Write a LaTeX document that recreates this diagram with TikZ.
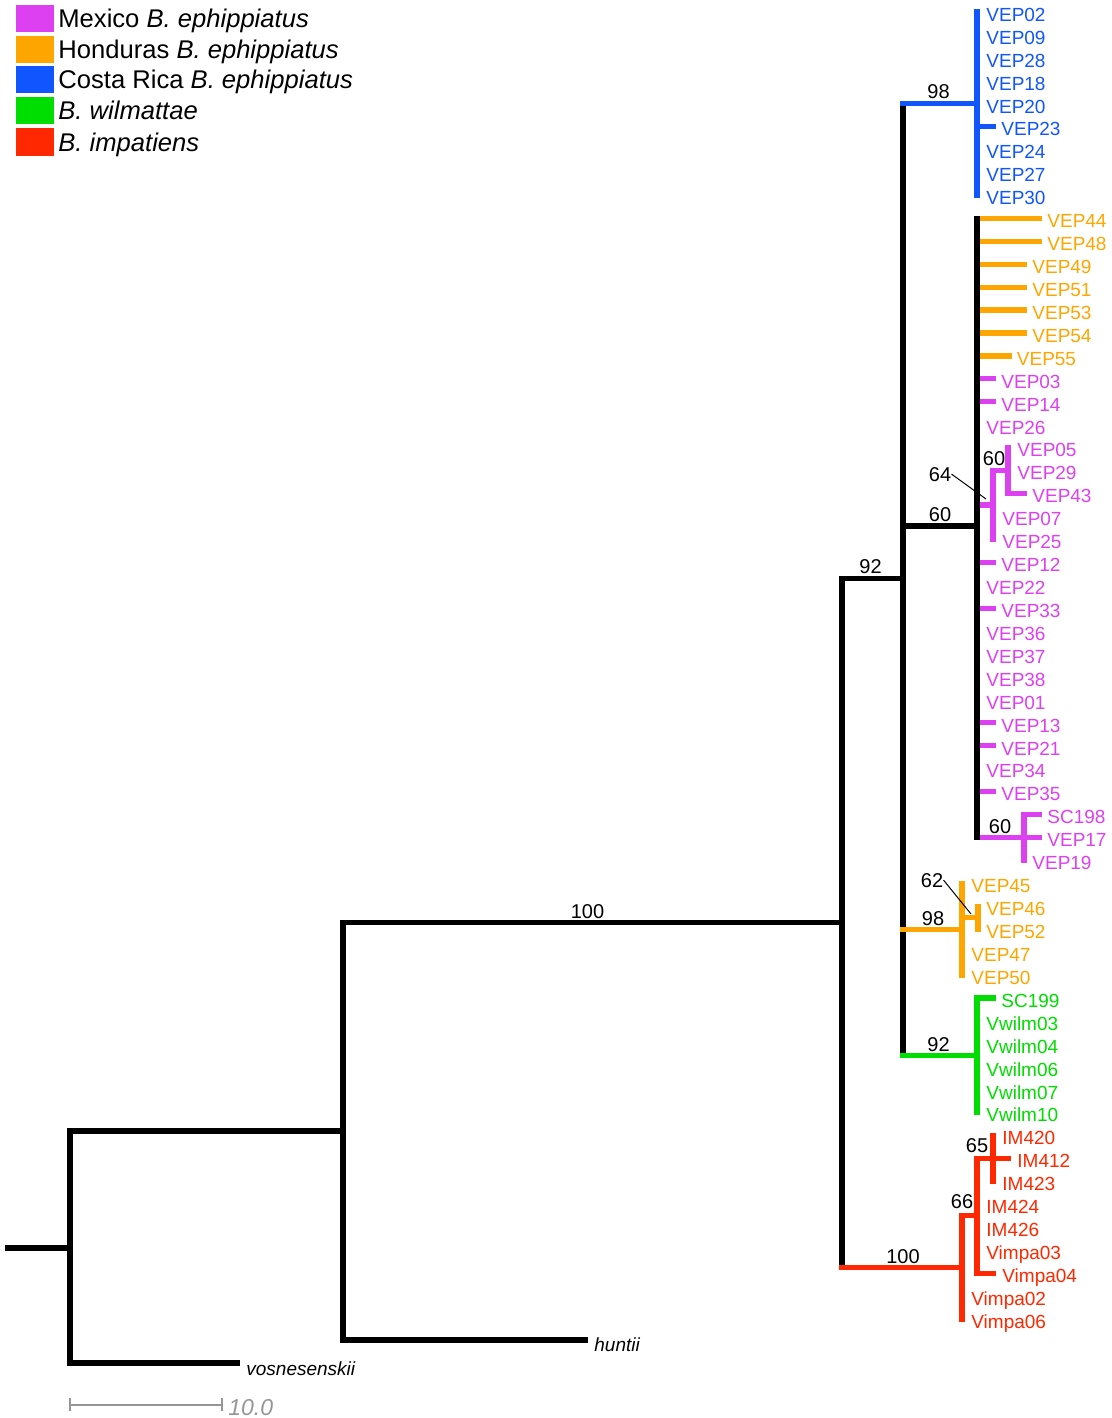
\documentclass[tikz,border=0pt]{standalone}
\usepackage{fontspec}
\setmainfont{Liberation Sans}
\definecolor{cmag}{HTML}{DD40F0}
\definecolor{cora}{HTML}{FFA500}
\definecolor{cblue}{HTML}{1155FF}
\definecolor{cgrn}{HTML}{00DD00}
\definecolor{cred}{HTML}{FF2800}
\definecolor{cgray}{HTML}{969696}
\begin{document}
\begin{tikzpicture}[x=0.5pt,y=-0.5pt,
  br/.style={line width=2.6pt,line cap=rect},
  tip/.style={anchor=base west,inner sep=0pt,font=\fontsize{9.5}{11}\selectfont},
  sup/.style={anchor=base,inner sep=0pt,font=\fontsize{10}{12}\selectfont},
  lead/.style={line width=0.5pt,black},
  legsq/.style={minimum width=19pt,minimum height=13.5pt,inner sep=0pt,draw=none},
  leg/.style={anchor=base west,inner sep=0pt,font=\fontsize{12.8}{14}\selectfont}]
\useasboundingbox (0,0) rectangle (1112,1418);
% internal nodes
\coordinate (root0) at (7.5,1248);
\coordinate (root) at (70,1248);
\coordinate (eVos) at (237.5,1363);
\coordinate (n1) at (343,1131);
\coordinate (eHun) at (585.5,1340);
\coordinate (n100) at (842,922.5);
\coordinate (n92) at (903,578.5);
\coordinate (nBlue) at (977,{12+22.93*4});
\coordinate (n60) at (977,526);
\coordinate (n64) at (993,505);
\coordinate (n60b) at (1008,{12+22.93*20});
\coordinate (nSC) at (1024,{12+22.93*36});
\coordinate (nOr) at (962,{12+22.93*40});
\coordinate (n62) at (978,{12+22.93*39.5});
\coordinate (nGr) at (977,{12+22.93*45.5});
\coordinate (n65) at (993,{12+22.93*50});
\coordinate (n66) at (977,1215.8);
\coordinate (nRed) at (962,1267.4);
% black backbone
\draw[br] (root0) -- (root);
\draw[br] (root |- n1) -- (root |- eVos);
\draw[br] (root |- n1) -- (n1);
\draw[br] (root |- eVos) -- (eVos);
\draw[br] (n1 |- n100) -- (n1 |- eHun);
\draw[br] (n1 |- n100) -- (n100);
\draw[br] (n1 |- eHun) -- (eHun);
\draw[br] (n100 |- n92) -- (n100 |- nRed);
\draw[br] (n100 |- n92) -- (n92);
\draw[br,cred] (n100 |- nRed) -- (nRed);
\draw[br] (n92 |- nBlue) -- (n92 |- nGr);
\draw[br,cblue] (n92 |- nBlue) -- (nBlue);
\draw[br] (n92 |- n60) -- (n60);
\draw[br,cora] (n92 |- nOr) -- (nOr);
\draw[br,cgrn] (n92 |- nGr) -- (nGr);
% clade verticals
\draw[br,cblue] (977,12) -- (977,{12+22.93*8});
\draw[br,cmag] (n60 |- n64) -- (n64);
\draw[br,cmag] (n64 |- n60b) -- (n64 |- 0,{12+22.93*23});
\draw[br,cmag] (n64 |- n60b) -- (n60b);
\draw[br,cmag] (1008,{12+22.93*19}) -- (1008,{12+22.93*21});
\draw[br,cmag] (n60 |- nSC) -- (nSC);
\draw[br,cmag] (1024,{12+22.93*35}) -- (1024,{12+22.93*37});
\draw[br,cora] (962,{12+22.93*38}) -- (962,{12+22.93*42});
\draw[br,cora] (nOr |- n62) -- (n62);
\draw[br,cora] (978,{12+22.93*39}) -- (978,{12+22.93*40});
\draw[br,cgrn] (977,{12+22.93*43}) -- (977,{12+22.93*48});
\draw[br,cred] (nRed |- n66) -- (962,{12+22.93*57});
\draw[br,cred] (nRed |- n66) -- (n66);
\draw[br,cred] (n66 |- n65) -- (977,{12+22.93*55});
\draw[br,cred] (n66 |- n65) -- (n65);
\draw[br,cred] (993,{12+22.93*49}) -- (993,{12+22.93*51});
% tips with branches
\foreach \nm/\r/\pa/\ex/\lx/\cl in {
  VEP23/5/nBlue/993.5/1001/cblue,
  VEP44/9/n60/1039.5/1047/cora, VEP48/10/n60/1039.5/1047/cora,
  VEP49/11/n60/1024.5/1032/cora, VEP51/12/n60/1024.5/1032/cora,
  VEP53/13/n60/1024.5/1032/cora, VEP54/14/n60/1024.5/1032/cora,
  VEP55/15/n60/1009.5/1016.5/cora,
  VEP03/16/n60/993.5/1001/cmag, VEP14/17/n60/993.5/1001/cmag,
  VEP43/21/n60b/1024.5/1032/cmag,
  VEP12/24/n60/993.5/1001/cmag, VEP33/26/n60/993.5/1001/cmag,
  VEP13/31/n60/993.5/1001/cmag, VEP21/32/n60/993.5/1001/cmag,
  VEP35/34/n60/993.5/1001/cmag,
  SC198/35/nSC/1039.5/1047/cmag, VEP17/36/nSC/1039.5/1047/cmag,
  SC199/43/nGr/993.5/1001/cgrn,
  IM412/50/n65/1008.5/1017/cred, Vimpa04/55/n66/993.5/1002/cred}{
  \coordinate (e\nm) at (\ex,{12+22.93*\r});
  \draw[br,\cl] (\pa |- e\nm) -- (e\nm);
  \node[tip,text=\cl] (t\nm) at (\lx,{12+22.93*\r+9.3}) {\nm};
}
% black vertical of the large clade, drawn over its tip branches
\draw[br] (977,{12+22.93*9}) -- (n60 |- nSC);
% tips without branch
\foreach \nm/\r/\lx/\cl in {
  VEP02/0/986/cblue, VEP09/1/986/cblue, VEP28/2/986/cblue, VEP18/3/986/cblue,
  VEP20/4/986/cblue, VEP24/6/986/cblue, VEP27/7/986/cblue, VEP30/8/986/cblue,
  VEP26/18/986/cmag, VEP05/19/1017/cmag, VEP29/20/1017/cmag,
  VEP07/22/1002/cmag, VEP25/23/1002/cmag, VEP22/25/986/cmag,
  VEP36/27/986/cmag, VEP37/28/986/cmag, VEP38/29/986/cmag, VEP01/30/986/cmag,
  VEP34/33/986/cmag, VEP19/37/1032/cmag,
  VEP45/38/971/cora, VEP46/39/986/cora, VEP52/40/986/cora,
  VEP47/41/971/cora, VEP50/42/971/cora,
  Vwilm03/44/986/cgrn, Vwilm04/45/986/cgrn, Vwilm06/46/986/cgrn,
  Vwilm07/47/986/cgrn, Vwilm10/48/986/cgrn,
  IM420/49/1002/cred, IM423/51/1002/cred, IM424/52/986/cred,
  IM426/53/986/cred, Vimpa03/54/986/cred, Vimpa02/56/971/cred,
  Vimpa06/57/971/cred}{
  \node[tip,text=\cl] (t\nm) at (\lx,{12+22.93*\r+9.3}) {\nm};
}
% outgroups
\node[tip,font=\fontsize{9.5}{11}\selectfont\itshape] (tVos) at (246,1375) {vosnesenskii};
\node[tip,font=\fontsize{9.5}{11}\selectfont\itshape] (tHun) at (594,1351) {huntii};
% support values
\node[sup] (sBlue) at (938.5,98) {98};
\node[sup] (s60) at (940,521) {60};
\node[sup] (s92) at (870.5,573) {92};
\node[sup] (s100) at (587.5,918) {100};
\node[sup] (s64) at (940,481) {64};
\node[sup] (s60b) at (994,465) {60};
\node[sup] (s60c) at (1000,833) {60};
\node[sup] (s62) at (932,887) {62};
\node[sup] (sOr) at (933,925) {98};
\node[sup] (sGr) at (938.5,1051) {92};
\node[sup] (s65) at (977,1152) {65};
\node[sup] (s66) at (962,1208) {66};
\node[sup] (sRed) at (903,1263) {100};
\coordinate (p64) at (986,499);
\coordinate (p62) at (971,914);
\draw[lead] (s64.east) -- (p64);
\draw[lead] (s62.east) -- (p62);
% legend
\node[legsq,fill=cmag] (lg1) at (35,18.5) {};
\node[legsq,fill=cora] (lg2) at (35,49.5) {};
\node[legsq,fill=cblue] (lg3) at (35,80) {};
\node[legsq,fill=cgrn] (lg4) at (35,110.5) {};
\node[legsq,fill=cred] (lg5) at (35,142) {};
\node[leg] (lt1) at (58,27.5) {Mexico \textit{B. ephippiatus}};
\node[leg] (lt2) at (58,58.5) {Honduras \textit{B. ephippiatus}};
\node[leg] (lt3) at (58,89) {Costa Rica \textit{B. ephippiatus}};
\node[leg] (lt4) at (58,119.5) {\textit{B. wilmattae}};
\node[leg] (lt5) at (58,151) {\textit{B. impatiens}};
% scale bar
\coordinate (sb1) at (70,1405);
\coordinate (sb2) at (222,1405);
\draw[cgray,line width=0.9pt] (sb1) -- (sb2);
\draw[cgray,line width=0.9pt] ([yshift=3.5pt]sb1) -- ([yshift=-3pt]sb1);
\draw[cgray,line width=0.9pt] ([yshift=3.5pt]sb2) -- ([yshift=-3pt]sb2);
\node[anchor=base west,inner sep=0pt,text=cgray,font=\fontsize{11.5}{13}\selectfont\itshape] (sbl) at (228,1415) {10.0};
\end{tikzpicture}
\end{document}
